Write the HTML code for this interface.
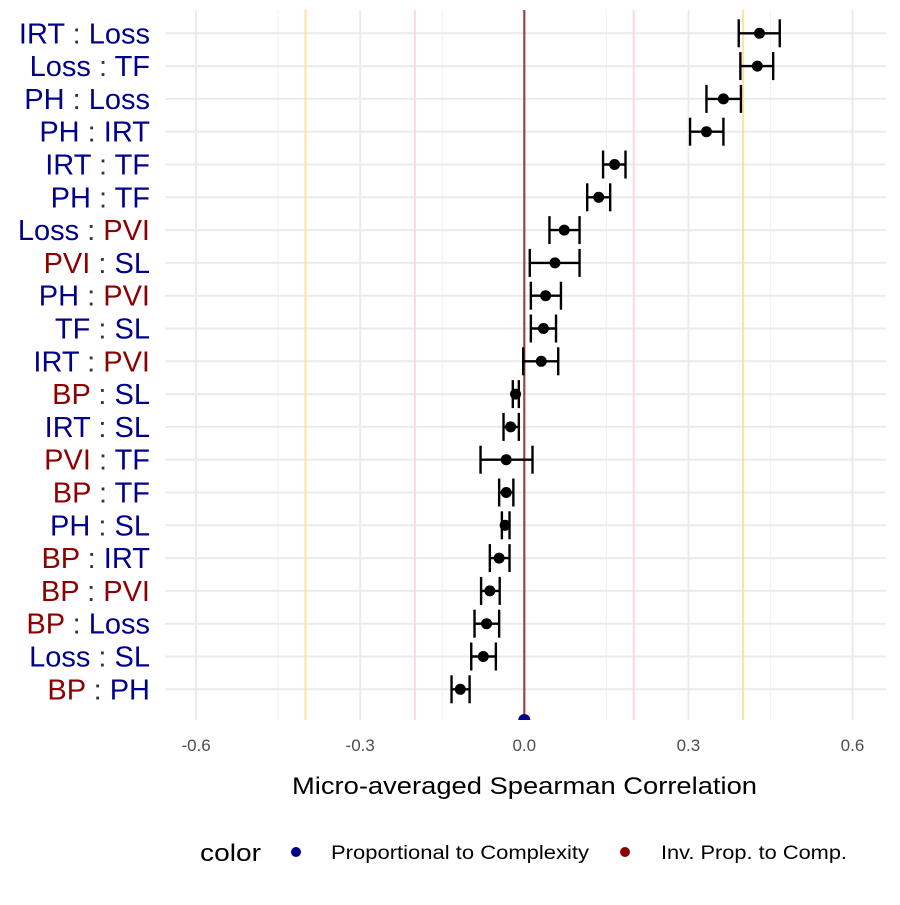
<!DOCTYPE html>
<html><head><meta charset="utf-8"><style>
body{margin:0;background:#fff}
svg text{font-family:"Liberation Sans",sans-serif}
</style></head><body>
<svg width="900" height="900" viewBox="0 0 900 900">
<g id="grid"></g><g id="refs"></g><g id="marks"></g><g id="labels"></g><g id="ticks"></g>
<text x="292" y="794" font-size="24" textLength="465" lengthAdjust="spacingAndGlyphs" fill="#000">Micro-averaged Spearman Correlation</text>
<g>
<text x="200" y="861" font-size="24" textLength="61" lengthAdjust="spacingAndGlyphs" fill="#000">color</text>
<circle cx="296" cy="852" r="5" fill="#00008B"/>
<text x="331" y="859" font-size="19" textLength="258" lengthAdjust="spacingAndGlyphs" fill="#000">Proportional to Complexity</text>
<circle cx="625" cy="852" r="5" fill="#8B0000"/>
<text x="661" y="859" font-size="19" textLength="186" lengthAdjust="spacingAndGlyphs" fill="#000">Inv. Prop. to Comp.</text>
</g>
</svg>
<script>
const leftVar=["IRT","Loss","PH","PH","IRT","PH","Loss","PVI","PH","TF","IRT","BP","IRT","PVI","BP","PH","BP","BP","BP","Loss","BP"];
const rightVar=["Loss","TF","Loss","IRT","TF","TF","PVI","SL","PVI","SL","PVI","SL","SL","TF","TF","SL","IRT","PVI","Loss","SL","PH"];
const estimates=[0.430,0.426,0.364,0.333,0.165,0.136,0.073,0.056,0.039,0.035,0.031,-0.016,-0.025,-0.033,-0.033,-0.035,-0.046,-0.063,-0.069,-0.075,-0.117];
const lower=[0.392,0.395,0.333,0.303,0.144,0.115,0.046,0.010,0.012,0.012,-0.002,-0.021,-0.038,-0.080,-0.046,-0.041,-0.063,-0.079,-0.091,-0.097,-0.133];
const upper=[0.467,0.455,0.396,0.364,0.185,0.157,0.101,0.101,0.067,0.058,0.062,-0.010,-0.010,0.015,-0.020,-0.027,-0.027,-0.045,-0.046,-0.052,-0.100];
const majorTicks=[-0.6,-0.3,0,0.3,0.6];
const tickLabels=["-0.6","-0.3","0.0","0.3","0.6"];
const minorTicks=[-0.45,-0.15,0.15,0.45];
const invVars=["PVI","BP"];
const NS="http://www.w3.org/2000/svg";
const X=v=>524.3+547*v;
const Y=i=>33.3+i*32.8;
const P={l:165,r:886,t:10,b:720};
function mk(tag,attrs,parent,txt){const e=document.createElementNS(NS,tag);for(const k in attrs)e.setAttribute(k,attrs[k]);if(txt!==undefined)e.textContent=txt;document.getElementById(parent).appendChild(e);return e;}
minorTicks.forEach(v=>{const e=mk('line',{x1:X(v),x2:X(v),y1:P.t,y2:P.b,stroke:'#f2f2f2','stroke-width':1.2},'grid');

});
majorTicks.forEach((v,i)=>{const e=mk('line',{x1:X(v),x2:X(v),y1:P.t,y2:P.b,stroke:'#ebebeb','stroke-width':2},'grid');


const t=mk('text',{x:X(v),y:751,'font-size':17,'text-anchor':'middle',fill:'#4d4d4d'},'ticks',tickLabels[i]);

});
leftVar.forEach((_,i)=>{const e=mk('line',{x1:P.l,x2:P.r,y1:Y(i),y2:Y(i),stroke:'#ebebeb','stroke-width':2},'grid');

});
[[0.4,'#FFE0A0'],[-0.4,'#FFE0A0'],[0.2,'#FCD9E0'],[-0.2,'#FCD9E0']].forEach(([v,c])=>{const e=mk('line',{x1:X(v),x2:X(v),y1:P.t,y2:P.b,stroke:c,'stroke-width':2},'refs');

});
const z=mk('line',{x1:X(0),x2:X(0),y1:P.t,y2:P.b,stroke:'#A04545','stroke-width':2.2},'refs');


const tri=mk('path',{d:`M${X(0)-6},${P.b} A6,6 0 0 1 ${X(0)+6},${P.b} Z`,fill:'#00008B'},'refs');


estimates.forEach((v,i)=>{const y=Y(i);const g=mk('g',{},'marks');


const a=X(lower[i]),b=X(upper[i]);
[[a,y,b,y],[a,y-14,a,y+14],[b,y-14,b,y+14]].forEach(c=>{const l=document.createElementNS(NS,'line');l.setAttribute('x1',c[0]);l.setAttribute('y1',c[1]);l.setAttribute('x2',c[2]);l.setAttribute('y2',c[3]);l.setAttribute('stroke','#000');l.setAttribute('stroke-width',2.4);g.appendChild(l);});
const c=document.createElementNS(NS,'circle');c.setAttribute('cx',X(v));c.setAttribute('cy',y);c.setAttribute('r',5.5);c.setAttribute('fill','#000');


g.appendChild(c);
const col=s=>invVars.includes(s)?'#8B0000':'#00008B';
const t=mk('text',{x:150,y:y+10,'font-size':29,'text-anchor':'end'},'labels');


[[leftVar[i],col(leftVar[i])],[' : ','#333'],[rightVar[i],col(rightVar[i])]].forEach(([s,cl])=>{const sp=document.createElementNS(NS,'tspan');sp.setAttribute('fill',cl);sp.textContent=s;t.appendChild(sp);});
});
</script>
</body></html>
